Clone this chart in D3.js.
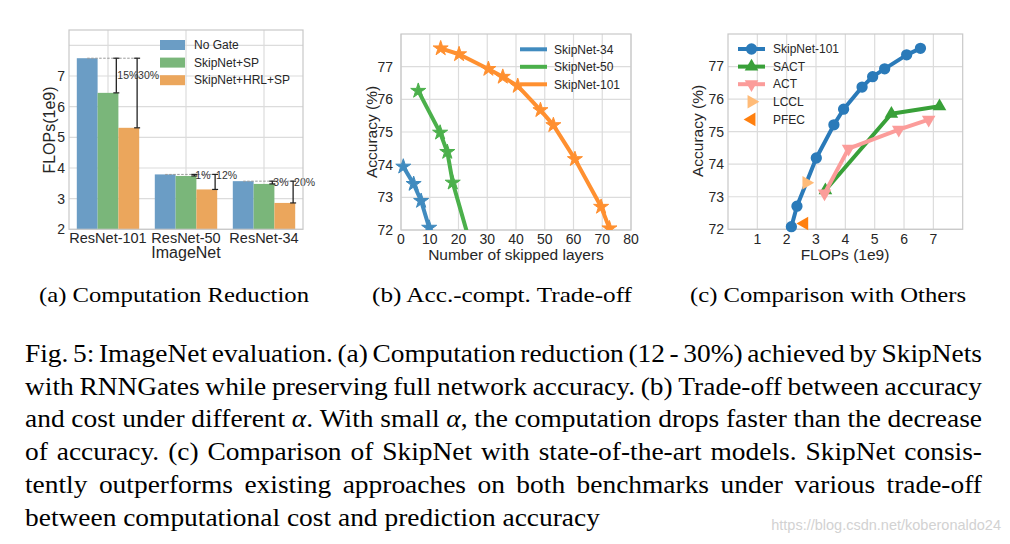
<!DOCTYPE html>
<html><head><meta charset="utf-8">
<script src="https://cdn.jsdelivr.net/npm/d3@7"></script>
<style>
body{margin:0;background:#fff;}
svg{display:block;}
text{font-family:"Liberation Sans",Arial,sans-serif;}
text.serif{font-family:"Liberation Serif","Times New Roman",serif;}
</style></head>
<body>
<svg id="c" width="1010" height="544"></svg>
<script>
// ---------- DATA ----------
// (a) Computation reduction
const barCategories = ["ResNet-101", "ResNet-50", "ResNet-34"];
const barSeriesNames = ["No Gate", "SkipNet+SP", "SkipNet+HRL+SP"];
const flopsNoGate = [7.58, 3.79, 3.57];
const flopsSkipSP = [6.45, 3.74, 3.48];
const flopsSkipHRL = [5.31, 3.30, 2.86];
const reductionSP = ["15%", "1%", "3%"];
const reductionHRL = ["30%", "12%", "20%"];
const barYTicks = [2, 3, 4, 5, 6, 7];
const barYGrid = [2, 3, 4, 5, 6, 7, 8];

// (b) Accuracy vs skipped layers
const tradeNames = ["SkipNet-34", "SkipNet-50", "SkipNet-101"];
const skip34Layers = [0.8, 4.4, 7, 9.8];
const skip34Acc = [73.94, 73.41, 72.89, 72.07];
const skip50Layers = [6, 13.6, 16.1, 18, 25];
const skip50Acc = [76.26, 74.98, 74.39, 73.45, 71.3];
const skip101Layers = [13.8, 20.2, 30.4, 35.4, 40.6, 48.5, 53, 60.5, 69.6, 72.5];
const skip101Acc = [77.56, 77.38, 76.93, 76.69, 76.41, 75.67, 75.21, 74.17, 72.71, 72.05];
const tradeXTicks = [0, 10, 20, 30, 40, 50, 60, 70, 80];
const accTicks = [72, 73, 74, 75, 76, 77];

// (c) Comparison with others
const cmpNames = ["SkipNet-101", "SACT", "ACT", "LCCL", "PFEC"];
const skipNetFlops = [2.16, 2.35, 3.01, 3.61, 3.94, 4.57, 4.93, 5.34, 6.09, 6.56];
const skipNetAcc = [72.08, 72.71, 74.19, 75.21, 75.69, 76.37, 76.69, 76.93, 77.36, 77.56];
const sactFlops = [3.32, 5.57, 7.21];
const sactAcc = [73.2, 75.55, 75.78];
const actFlops = [3.29, 4.11, 5.82, 6.84];
const actAcc = [73.1, 74.48, 75.06, 75.37];
const lcclFlops = [2.67];
const lcclAcc = [73.43];
const pfecFlops = [2.6];
const pfecAcc = [72.18];
const cmpXTicks = [1, 2, 3, 4, 5, 6, 7];

// captions
const subCaptions = ["(a) Computation Reduction", "(b) Acc.-compt. Trade-off", "(c) Comparison with Others"];
const captionLines = [
  "Fig. 5: ImageNet evaluation. (a) Computation reduction (12 - 30%) achieved by SkipNets",
  "with RNNGates while preserving full network accuracy. (b) Trade-off between accuracy",
  "and cost under different α. With small α, the computation drops faster than the decrease",
  "of accuracy. (c) Comparison of SkipNet with state-of-the-art models. SkipNet consis-",
  "tently outperforms existing approaches on both benchmarks under various trade-off",
  "between computational cost and prediction accuracy"
];
const watermark = "https://blog.csdn.net/koberonaldo24";

// ---------- DRAWING ----------
const svg = d3.select("#c");
const defs = svg.append("defs");
const GRID = "#dcdcdc", FRAME = "#c8c8c8", TXT = "#262626";

function frame(g, x0, x1, y0, y1) {
  g.append("rect").attr("x", x0).attr("y", y0).attr("width", x1 - x0).attr("height", y1 - y0)
    .attr("fill", "none").attr("stroke", FRAME).attr("stroke-width", 1.2);
}

// ===== Panel (a) =====
{
  const g = svg.append("g");
  const x = d3.scalePoint().domain(barCategories).range([69, 303]).padding(0.5);
  const step = x.step();
  const bw = step * 0.8 / 3;
  const y = d3.scaleLinear().domain([2, 8.5]).range([229.3, 30]);
  g.selectAll(".hg").data(barYGrid).join("line")
    .attr("x1", 69).attr("x2", 303).attr("y1", d => y(d)).attr("y2", d => y(d))
    .attr("stroke", GRID).attr("stroke-width", 1.2);
  g.selectAll(".vg").data(barCategories).join("line")
    .attr("x1", d => x(d)).attr("x2", d => x(d)).attr("y1", 30).attr("y2", 229.3)
    .attr("stroke", GRID).attr("stroke-width", 1.2);
  const series = [flopsNoGate, flopsSkipSP, flopsSkipHRL];
  const colors = ["#6b9dc5", "#7ab67a", "#eba65c"];
  series.forEach((vals, si) => {
    g.selectAll(".b" + si).data(vals).join("rect")
      .attr("x", (d, i) => x(barCategories[i]) + (si - 1.5) * bw)
      .attr("width", bw)
      .attr("y", d => y(d)).attr("height", d => y(2) - y(d))
      .attr("fill", colors[si]);
  });
  barCategories.forEach((c, i) => {
    const cx = x(c);
    const top = flopsNoGate[i];
    const exSP = cx + 0.4 * bw;
    const exHRL = cx + bw + 0.4 * bw;
    g.append("line").attr("x1", cx - bw).attr("x2", exHRL + 2)
      .attr("y1", y(top)).attr("y2", y(top))
      .attr("stroke", "#999").attr("stroke-width", 1).attr("stroke-dasharray", "2.5,1.5");
    [[exSP, flopsSkipSP[i]], [exHRL, flopsSkipHRL[i]]].forEach(([ex, v]) => {
      g.append("line").attr("x1", ex).attr("x2", ex).attr("y1", y(top)).attr("y2", y(v))
        .attr("stroke", "#222").attr("stroke-width", 1.3);
      [top, v].forEach(vv => g.append("line").attr("x1", ex - 3).attr("x2", ex + 3)
        .attr("y1", y(vv)).attr("y2", y(vv)).attr("stroke", "#222").attr("stroke-width", 1.2));
    });
    const ty = y((flopsNoGate[i] + flopsSkipSP[i]) / 2);
    g.append("text").attr("x", exSP + 1).attr("y", ty).attr("dy", "0.35em")
      .attr("font-size", 10.5).attr("fill", "#333").text(reductionSP[i]);
    g.append("text").attr("x", exHRL + 1).attr("y", ty).attr("dy", "0.35em")
      .attr("font-size", 10.5).attr("fill", "#333").text(reductionHRL[i]);
  });
  frame(g, 69, 303, 30, 229.3);
  g.selectAll(".yt").data(barYTicks).join("text")
    .attr("x", 65).attr("y", d => y(d)).attr("dy", "0.35em").attr("text-anchor", "end")
    .attr("font-size", 14).attr("fill", TXT).text(d => d);
  g.selectAll(".xt").data(barCategories).join("text")
    .attr("x", d => x(d)).attr("y", 243).attr("text-anchor", "middle")
    .attr("font-size", 14.5).attr("fill", TXT).text(d => d);
  g.append("text").attr("x", 186).attr("y", 258).attr("text-anchor", "middle")
    .attr("font-size", 16).attr("fill", TXT).text("ImageNet");
  g.append("text").attr("transform", "translate(55,130) rotate(-90)").attr("text-anchor", "middle")
    .attr("font-size", 16).attr("fill", TXT).text("FLOPs(1e9)");
  barSeriesNames.forEach((n, i) => {
    const ly = 45 + i * 17.6;
    g.append("rect").attr("x", 160).attr("y", ly - 5).attr("width", 25).attr("height", 10).attr("fill", colors[i]);
    g.append("text").attr("x", 194).attr("y", ly).attr("dy", "0.35em")
      .attr("font-size", 12).attr("fill", TXT).text(n);
  });
}

// ===== Panel (b) =====
{
  const g = svg.append("g");
  const x = d3.scaleLinear().domain([0, 80]).range([401, 631]);
  const y = d3.scaleLinear().domain([72, 78]).range([230, 34]);
  defs.append("clipPath").attr("id", "clipB").append("rect")
    .attr("x", 390).attr("y", 34).attr("width", 250).attr("height", 196);
  g.selectAll(".vg").data(tradeXTicks).join("line")
    .attr("x1", d => x(d)).attr("x2", d => x(d)).attr("y1", 34).attr("y2", 230)
    .attr("stroke", GRID).attr("stroke-width", 1.2);
  g.selectAll(".hg").data(accTicks).join("line")
    .attr("x1", 401).attr("x2", 631).attr("y1", d => y(d)).attr("y2", d => y(d))
    .attr("stroke", GRID).attr("stroke-width", 1.2);
  frame(g, 401, 631, 34, 230);
  const colors = ["#418bbf", "#4bb04b", "#ff9030"];
  const sets = [[skip34Layers, skip34Acc], [skip50Layers, skip50Acc], [skip101Layers, skip101Acc]];
  const line = d3.line().x(d => x(d[0])).y(d => y(d[1]));
  const star = d3.symbol().type(d3.symbolStar).size(70);
  const pg = g.append("g").attr("clip-path", "url(#clipB)");
  sets.forEach(([xs, ys], si) => {
    const pts = xs.map((v, i) => [v, ys[i]]);
    pg.append("path").attr("d", line(pts)).attr("fill", "none")
      .attr("stroke", colors[si]).attr("stroke-width", 4).attr("stroke-linejoin", "round");
    pg.selectAll(".s" + si).data(pts).join("path").attr("d", star)
      .attr("transform", d => `translate(${x(d[0])},${y(d[1])})`)
      .attr("fill", colors[si]).attr("stroke", colors[si]).attr("stroke-width", 1);
  });
  g.selectAll(".yt").data(accTicks).join("text")
    .attr("x", 393).attr("y", d => y(d)).attr("dy", "0.35em").attr("text-anchor", "end")
    .attr("font-size", 14).attr("fill", TXT).text(d => d);
  g.selectAll(".xt").data(tradeXTicks).join("text")
    .attr("x", d => x(d)).attr("y", 243.5).attr("text-anchor", "middle")
    .attr("font-size", 14).attr("fill", TXT).text(d => d);
  g.append("text").attr("x", 516).attr("y", 260).attr("text-anchor", "middle")
    .attr("font-size", 15.5).attr("fill", TXT).text("Number of skipped layers");
  g.append("text").attr("transform", "translate(377,132) rotate(-90)").attr("text-anchor", "middle")
    .attr("font-size", 15.5).attr("fill", TXT).text("Accuracy (%)");
  tradeNames.forEach((n, i) => {
    const ly = 49.3 + i * 17.5;
    g.append("line").attr("x1", 520).attr("x2", 547).attr("y1", ly).attr("y2", ly)
      .attr("stroke", colors[i]).attr("stroke-width", 4);
    g.append("text").attr("x", 554).attr("y", ly).attr("dy", "0.35em")
      .attr("font-size", 12).attr("fill", TXT).text(n);
  });
}

// ===== Panel (c) =====
{
  const g = svg.append("g");
  const x = d3.scaleLinear().domain([0, 8]).range([728, 962.7]);
  const y = d3.scaleLinear().domain([72, 78]).range([229.3, 34]);
  defs.append("clipPath").attr("id", "clipC").append("rect")
    .attr("x", 722).attr("y", 28).attr("width", 247).attr("height", 208);
  g.selectAll(".vg").data(cmpXTicks).join("line")
    .attr("x1", d => x(d)).attr("x2", d => x(d)).attr("y1", 34).attr("y2", 229.3)
    .attr("stroke", GRID).attr("stroke-width", 1.2);
  g.selectAll(".hg").data(accTicks).join("line")
    .attr("x1", 728).attr("x2", 962.7).attr("y1", d => y(d)).attr("y2", d => y(d))
    .attr("stroke", GRID).attr("stroke-width", 1.2);
  frame(g, 728, 962.7, 34, 229.3);
  const colors = ["#2a7ab9", "#38a038", "#fb9c9a", "#ffbb78", "#ff7f0e"];
  const sets = [[skipNetFlops, skipNetAcc], [sactFlops, sactAcc], [actFlops, actAcc], [lcclFlops, lcclAcc], [pfecFlops, pfecAcc]];
  const shapes = [
    {type: d3.symbolCircle, size: 100, rot: 0},
    {type: d3.symbolTriangle, size: 80, rot: 0},
    {type: d3.symbolTriangle, size: 80, rot: 180},
    {type: d3.symbolTriangle, size: 80, rot: 90},
    {type: d3.symbolTriangle, size: 80, rot: -90}
  ];
  const hasLine = [true, true, true, false, false];
  const line = d3.line().x(d => x(d[0])).y(d => y(d[1]));
  const pg = g.append("g").attr("clip-path", "url(#clipC)");
  sets.forEach(([xs, ys], si) => {
    const pts = xs.map((v, i) => [v, ys[i]]);
    if (hasLine[si]) pg.append("path").attr("d", line(pts)).attr("fill", "none")
      .attr("stroke", colors[si]).attr("stroke-width", 4).attr("stroke-linejoin", "round");
    const sym = d3.symbol().type(shapes[si].type).size(shapes[si].size);
    pg.selectAll(".m" + si).data(pts).join("path").attr("d", sym)
      .attr("transform", d => `translate(${x(d[0])},${y(d[1])}) rotate(${shapes[si].rot})`)
      .attr("fill", colors[si]);
  });
  g.selectAll(".yt").data(accTicks).join("text")
    .attr("x", 724).attr("y", d => y(d)).attr("dy", "0.35em").attr("text-anchor", "end")
    .attr("font-size", 14).attr("fill", TXT).text(d => d);
  g.selectAll(".xt").data(cmpXTicks).join("text")
    .attr("x", d => x(d)).attr("y", 243.5).attr("text-anchor", "middle")
    .attr("font-size", 14).attr("fill", TXT).text(d => d);
  g.append("text").attr("x", 845).attr("y", 260).attr("text-anchor", "middle")
    .attr("font-size", 15.5).attr("fill", TXT).text("FLOPs (1e9)");
  g.append("text").attr("transform", "translate(703,131) rotate(-90)").attr("text-anchor", "middle")
    .attr("font-size", 15.5).attr("fill", TXT).text("Accuracy (%)");
  cmpNames.forEach((n, i) => {
    const ly = 49 + i * 17.6;
    if (hasLine[i]) g.append("line").attr("x1", 738).attr("x2", 765).attr("y1", ly).attr("y2", ly)
      .attr("stroke", colors[i]).attr("stroke-width", 4);
    const sym = d3.symbol().type(shapes[i].type).size(shapes[i].size);
    g.append("path").attr("d", sym).attr("transform", `translate(751.5,${ly}) rotate(${shapes[i].rot})`)
      .attr("fill", colors[i]);
    g.append("text").attr("x", 773).attr("y", ly).attr("dy", "0.35em")
      .attr("font-size", 12).attr("fill", TXT).text(n);
  });
}

// ===== Captions =====
const subX = [[39, 309], [372, 632], [690, 966]];
subCaptions.forEach((s, i) => {
  svg.append("text").attr("class", "serif").attr("x", subX[i][0]).attr("y", 301.5)
    .attr("font-size", 22).attr("fill", "#000")
    .attr("textLength", subX[i][1] - subX[i][0]).attr("lengthAdjust", "spacingAndGlyphs").text(s);
});

const capFont = 25;
const capBase = 362, capLead = 32.7, capX0 = 25, capX1 = 982, lastLineEnd = 600;
function addWord(g, w) {
  const t = g.append("text").attr("class", "serif").attr("font-size", capFont).attr("fill", "#000");
  w.split(/(α)/).filter(p => p.length).forEach(p => {
    const ts = t.append("tspan").text(p);
    if (p === "α") ts.attr("font-style", "italic");
  });
  return t;
}
// measure natural width of the last line to get the horizontal scale of the caption
const measG = svg.append("g");
const measT = measG.append("text").attr("class", "serif").attr("font-size", capFont)
  .text(captionLines[captionLines.length - 1]);
const sx = (lastLineEnd - capX0) / measT.node().getComputedTextLength();
measG.remove();

captionLines.forEach((ln, li) => {
  const g = svg.append("g").attr("transform", `translate(${capX0},${capBase + li * capLead}) scale(${sx},1)`);
  const words = ln.split(" ");
  const nodes = words.map(w => addWord(g, w));
  const widths = nodes.map(n => n.node().getComputedTextLength());
  const total = d3.sum(widths);
  const last = li === captionLines.length - 1;
  const spaceW = capFont * 0.25;
  const gap = last ? spaceW : ((capX1 - capX0) / sx - total) / (words.length - 1);
  let cx = 0;
  nodes.forEach((n, i) => {
    n.attr("x", cx).attr("y", 0);
    cx += widths[i] + gap;
  });
});

svg.append("text").attr("x", 1001).attr("y", 530).attr("text-anchor", "end")
  .attr("font-size", 14.5).attr("fill", "#d2d2d2").text(watermark);
</script>
</body></html>
